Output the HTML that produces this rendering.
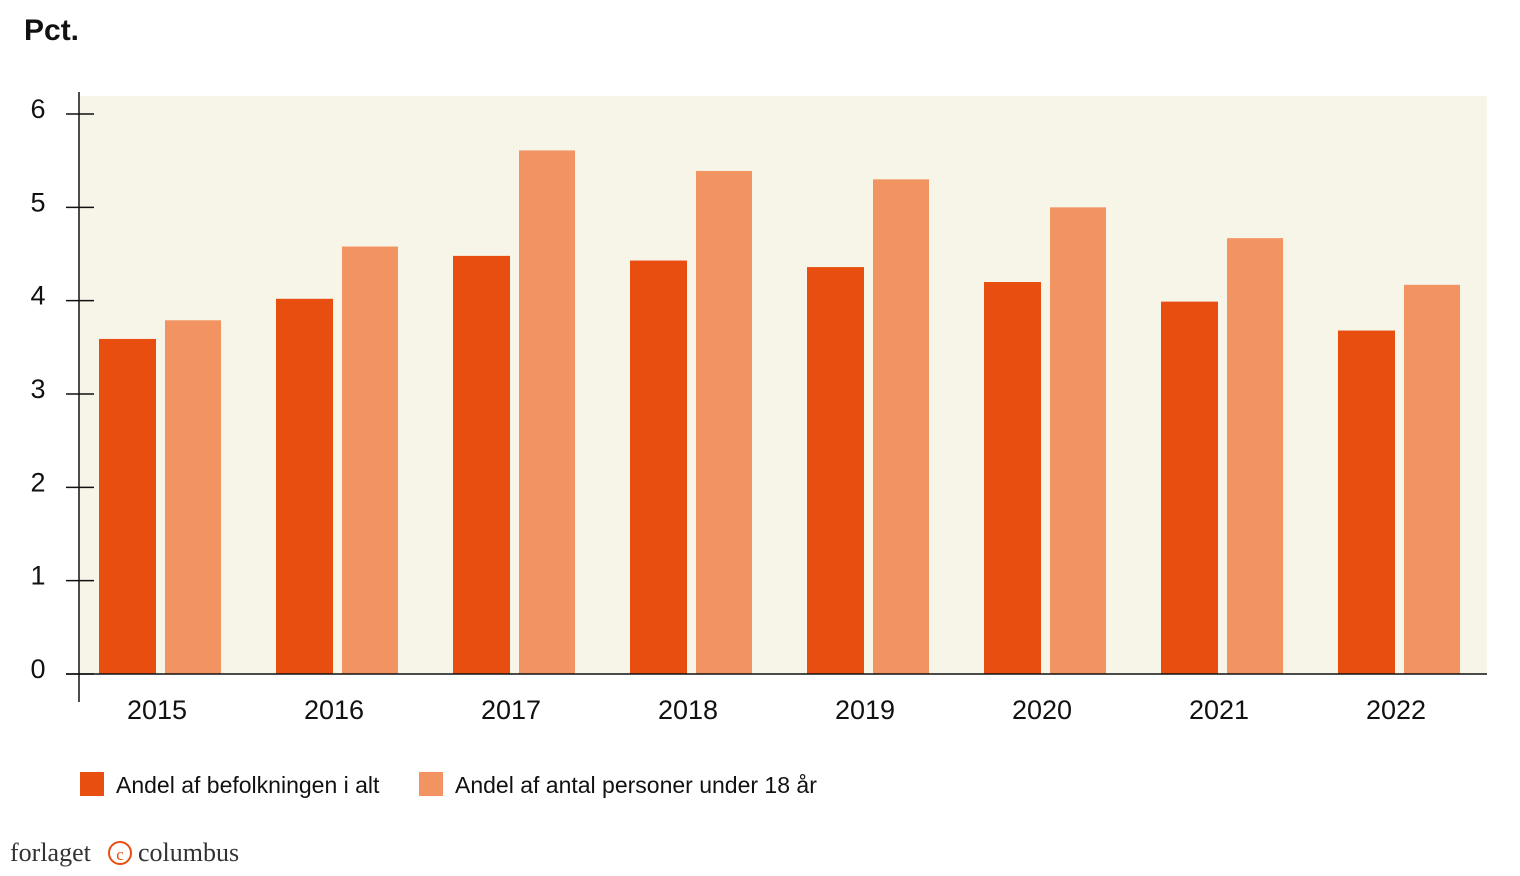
<!DOCTYPE html>
<html><head><meta charset="utf-8"><style>
body{margin:0;background:#fff;width:1520px;height:871px;overflow:hidden;font-family:"Liberation Sans",sans-serif}
</style></head><body>
<svg width="1520" height="871" xmlns="http://www.w3.org/2000/svg">
<text x="24" y="40" font-size="30" font-weight="bold" fill="#111">Pct.</text>
<rect x="80" y="96" width="1407" height="578" fill="#f7f4e8"/>
<g id="bars"></g>
<line x1="79" y1="92" x2="79" y2="702" stroke="#111" stroke-width="1.5"/>
<line x1="66" y1="674" x2="1487" y2="674" stroke="#111" stroke-width="1.5"/>
<g id="yticks"></g>
<g id="xlabels"></g>
<g>
<rect x="80" y="772" width="24" height="24" fill="#e84e10"/>
<text x="116" y="793" font-size="23" fill="#111">Andel af befolkningen i alt</text>
<rect x="419" y="772" width="24" height="24" fill="#f29462"/>
<text x="455" y="793" font-size="23" fill="#111">Andel af antal personer under 18 år</text>
</g>
<g>
<text x="10" y="861" font-family="Liberation Serif,serif" font-size="26" fill="#333">forlaget</text>
<circle cx="120" cy="853" r="11" fill="none" stroke="#e84e10" stroke-width="2"/>
<text x="120" y="860" font-family="Liberation Serif,serif" font-size="17" fill="#e84e10" text-anchor="middle">c</text>
<text x="138" y="861" font-family="Liberation Serif,serif" font-size="26" fill="#333">columbus</text>
</g>
</svg>
<script>
const years=["2015","2016","2017","2018","2019","2020","2021","2022"];
const totalVals=[3.59,4.02,4.48,4.43,4.36,4.20,3.99,3.68];
const childVals=[3.79,4.58,5.61,5.39,5.30,5.00,4.67,4.17];
const yTicks=[0,1,2,3,4,5,6];
const NS="http://www.w3.org/2000/svg";
const y=v=>674-v*93.33;
const gx=i=>99+i*177;
const bars=document.getElementById('bars');
years.forEach((yr,i)=>{
 [[totalVals[i],0,57,"#e84e10","total"],[childVals[i],66,56,"#f29462","children"]].forEach(([v,off,w,c,n])=>{
  const r=document.createElementNS(NS,'rect');
  
  
  r.setAttribute('x',gx(i)+off);r.setAttribute('y',y(v));r.setAttribute('width',w);r.setAttribute('height',674-y(v));r.setAttribute('fill',c);
  bars.appendChild(r);
 });
 const t=document.createElementNS(NS,'text');
 
 
 t.setAttribute('x',gx(i)+58);t.setAttribute('y',719);t.setAttribute('font-size','27');t.setAttribute('text-anchor','middle');t.setAttribute('fill','#111');
 t.textContent=yr;document.getElementById('xlabels').appendChild(t);
});
yTicks.forEach(v=>{
 const l=document.createElementNS(NS,'line');
 
 
 l.setAttribute('x1',66);l.setAttribute('x2',94);l.setAttribute('y1',y(v));l.setAttribute('y2',y(v));l.setAttribute('stroke','#111');l.setAttribute('stroke-width','1.5');
 document.getElementById('yticks').appendChild(l);
 const t=document.createElementNS(NS,'text');
 
 
 t.setAttribute('x',38);t.setAttribute('y',y(v)+4);t.setAttribute('font-size','27');t.setAttribute('text-anchor','middle');t.setAttribute('fill','#111');
 t.textContent=v;document.getElementById('yticks').appendChild(t);
});
</script>
</body></html>
